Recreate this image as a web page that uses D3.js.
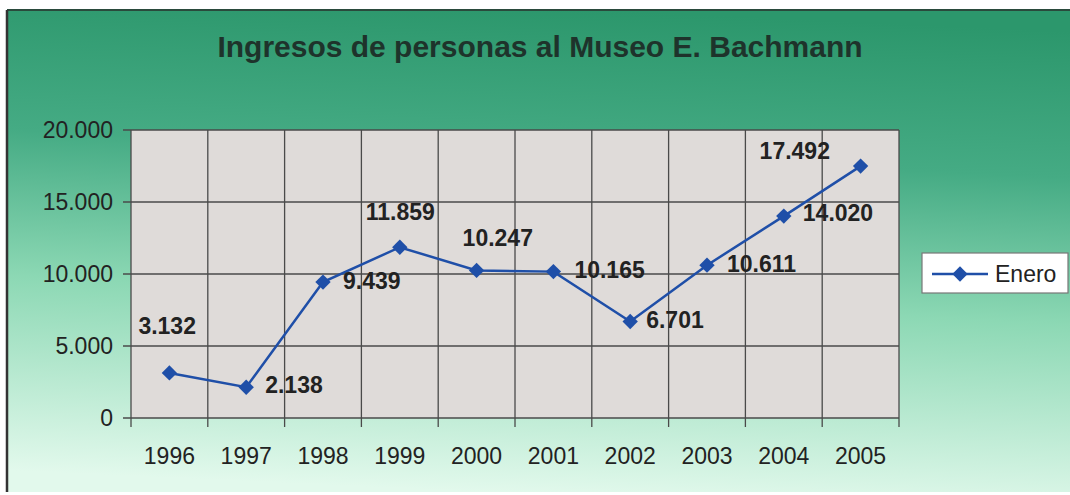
<!DOCTYPE html>
<html>
<head>
<meta charset="utf-8">
<script src="https://cdn.jsdelivr.net/npm/d3@7"></script>
<style>
  body { margin: 0; background: #fff; }
  text { font-family: "Liberation Sans", Arial, sans-serif; fill: #222; }
</style>
</head>
<body>
<div class="chart"></div>
<script>
// data
const years = ["1996","1997","1998","1999","2000","2001","2002","2003","2004","2005"];
const enero = [3132, 2138, 9439, 11859, 10247, 10165, 6701, 10611, 14020, 17492];
const yTicks = [0, 5000, 10000, 15000, 20000];
const seriesName = "Enero";
const title = "Ingresos de personas al Museo E. Bachmann";

// label offsets from each point (dx to text start, dy to baseline)
const labelOffsets = [[-31,-39],[19,6],[20,7],[-34,-27],[-14,-24],[21,6],[16,6],[20,7],[19,5],[-101,-7]];

const W = 1070, H = 495;
const plot = {left: 131, top: 130, right: 899, bottom: 418};

const svg = d3.select(".chart").append("svg")
    .attr("width", W).attr("height", H);

const defs = svg.append("defs");
const grad = defs.append("linearGradient").attr("id", "bg")
    .attr("x1", 0.55).attr("y1", 0).attr("x2", 0.45).attr("y2", 1);
grad.append("stop").attr("offset", 0).attr("stop-color", "#2c976c");
grad.append("stop").attr("offset", 0.3).attr("stop-color", "#45ab84");
grad.append("stop").attr("offset", 0.6).attr("stop-color", "#8cd8b4");
grad.append("stop").attr("offset", 1).attr("stop-color", "#e2f9ec");

// chart background
svg.append("rect")
    .attr("x", 7).attr("y", 10).attr("width", W - 7).attr("height", 482)
    .attr("fill", "url(#bg)");
svg.append("line").attr("x1", 7).attr("x2", W).attr("y1", 10).attr("y2", 10)
    .attr("stroke", "#2a4a3c").attr("stroke-width", 2);
svg.append("line").attr("x1", 7).attr("x2", 7).attr("y1", 10).attr("y2", 492)
    .attr("stroke", "#333").attr("stroke-width", 2.5);

// title
svg.append("text")
    .attr("x", 540).attr("y", 57)
    .attr("text-anchor", "middle")
    .attr("font-size", 30).attr("font-weight", "bold")
    .style("fill", "#1e332b")
    .text(title);

// scales
const x = d3.scaleBand().domain(years).range([plot.left, plot.right]);
const y = d3.scaleLinear().domain([0, 20000]).range([plot.bottom, plot.top]);

// plot area
svg.append("rect")
    .attr("x", plot.left).attr("y", plot.top)
    .attr("width", plot.right - plot.left).attr("height", plot.bottom - plot.top)
    .attr("fill", "#dfdbd9");

// grid
const gridColor = "#4a4a4a";
svg.append("g").selectAll("line").data(yTicks).join("line")
    .attr("x1", plot.left - 8).attr("x2", plot.right)
    .attr("y1", d => y(d)).attr("y2", d => y(d))
    .attr("stroke", gridColor).attr("stroke-width", 1.3);
const bounds = years.map(d => x(d)).concat([plot.right]);
svg.append("g").selectAll("line").data(bounds).join("line")
    .attr("x1", d => d).attr("x2", d => d)
    .attr("y1", plot.top).attr("y2", plot.bottom + 9)
    .attr("stroke", gridColor).attr("stroke-width", 1.3);

// axis labels
const fmt = v => d3.format(",")(v).replace(/,/g, ".");
svg.append("g").selectAll("text").data(yTicks).join("text")
    .attr("x", 113).attr("y", d => y(d) + 8)
    .attr("text-anchor", "end").attr("font-size", 23)
    .text(fmt);
svg.append("g").selectAll("text").data(years).join("text")
    .attr("x", d => x(d) + x.bandwidth() / 2).attr("y", 464)
    .attr("text-anchor", "middle").attr("font-size", 23)
    .text(d => d);

// line
const pts = years.map((d, i) => [x(d) + x.bandwidth() / 2, y(enero[i])]);
const lineColor = "#1f4fa8";
svg.append("path")
    .attr("d", d3.line()(pts))
    .attr("fill", "none").attr("stroke", lineColor).attr("stroke-width", 2.5);

const diamond = d3.symbol().type(d3.symbolDiamond2).size(150);
svg.append("g").selectAll("path").data(pts).join("path")
    .attr("transform", d => `translate(${d[0]},${d[1]})`)
    .attr("d", diamond).attr("fill", lineColor);

// data labels
svg.append("g").selectAll("text").data(pts).join("text")
    .attr("x", (d, i) => d[0] + labelOffsets[i][0])
    .attr("y", (d, i) => d[1] + labelOffsets[i][1])
    .attr("font-size", 23).attr("font-weight", "bold")
    .text((d, i) => fmt(enero[i]));

// legend
const lg = svg.append("g").attr("transform", "translate(922,253)");
lg.append("rect").attr("width", 146).attr("height", 40)
    .attr("fill", "#fff").attr("stroke", "#777").attr("stroke-width", 1.2);
lg.append("line").attr("x1", 10).attr("x2", 66).attr("y1", 21).attr("y2", 21)
    .attr("stroke", lineColor).attr("stroke-width", 2.5);
lg.append("path").attr("transform", "translate(38,21)").attr("d", diamond).attr("fill", lineColor);
lg.append("text").attr("x", 73).attr("y", 29).attr("font-size", 23).text(seriesName);
</script>
</body>
</html>
